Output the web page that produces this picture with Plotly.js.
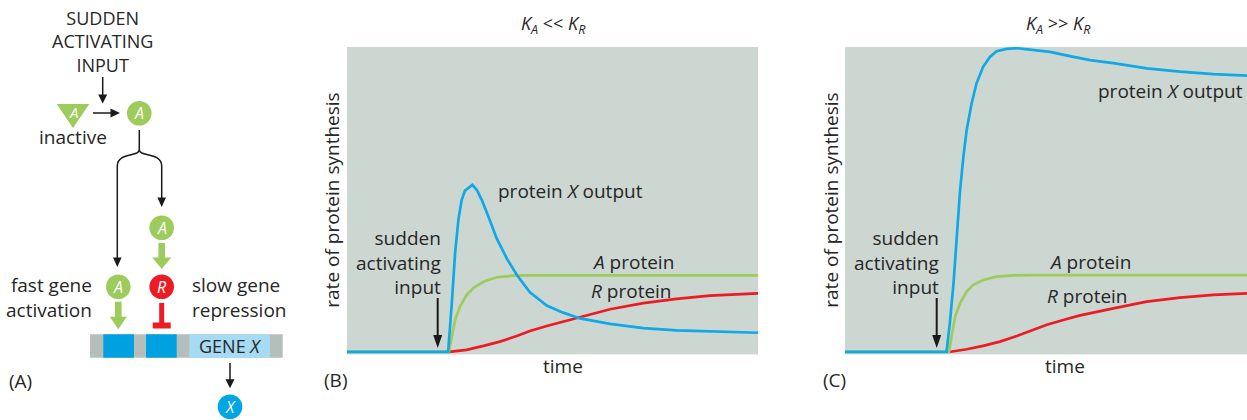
<!DOCTYPE html>
<html>
<head>
<meta charset="utf-8">
<script src="https://cdn.plot.ly/plotly-3.0.1.min.js"></script>
<style>html,body{margin:0;padding:0;background:#fff;overflow:hidden}</style>
</head>
<body>
<div id="chart" style="width:1247px;height:420px"></div>
<script>
// ---------- Data: panel B (K_A << K_R) ----------
const tBlueB = [0, 24.6, 25.5, 26.3, 27.1, 27.9, 28.7, 29.8, 30.5, 31.6, 32.8, 34.4, 36.4, 38.9, 41.3, 44.5, 48.6, 52.6, 56.7, 64.0, 72.1, 80.2, 88.3, 100];
const rBlueB = [0, 0, 16.0, 32.4, 43.3, 49.8, 52.9, 54.2, 54.8, 53.1, 49.8, 44.4, 37.3, 30.6, 25.3, 19.6, 15.2, 12.9, 11.0, 9.2, 7.8, 7.1, 6.7, 6.3];
const tGreenB = [0, 24.8, 25.5, 26.3, 27.5, 29.1, 30.7, 33.2, 36.4, 40.5, 44.5, 100];
const rGreenB = [0, 0, 5.0, 10.5, 14.9, 18.7, 20.9, 23.0, 24.5, 25.0, 25.1, 25.1];
const tRedB = [24.8, 29.1, 33.2, 37.2, 41.3, 44.5, 48.6, 54.3, 64.0, 72.1, 80.2, 88.3, 100];
const rRedB = [0, 0.7, 2.0, 3.4, 5.2, 6.9, 8.5, 10.5, 14.0, 16.0, 17.4, 18.5, 19.2];

// ---------- Data: panel C (K_A >> K_R) ----------
const tBlueC = [0, 24.7, 25.5, 26.4, 27.2, 28.0, 28.8, 29.6, 30.8, 32.0, 33.6, 35.3, 36.9, 39.3, 41.8, 45.0, 49.9, 54.7, 59.6, 65.3, 73.4, 81.5, 89.6, 97.8];
const rBlueC = [0, 0, 9.4, 22.5, 37.8, 53.1, 64.0, 72.8, 81.5, 88.1, 93.5, 96.8, 98.6, 99.4, 99.6, 99.2, 98.4, 97.0, 95.7, 94.7, 93.0, 91.9, 91.1, 90.6];
const tGreenC = [0, 25.3, 26.0, 26.8, 28.0, 29.6, 31.2, 33.6, 36.9, 40.9, 45.0, 97.8];
const rGreenC = [0, 0, 5.6, 11.6, 16.0, 19.8, 22.0, 23.6, 24.7, 25.1, 25.2, 25.2];
const tRedC = [25.3, 29.6, 33.6, 37.7, 41.8, 45.0, 49.1, 53.1, 57.2, 65.3, 73.4, 81.5, 89.6, 97.8];
const rRedC = [0, 0.9, 2.0, 3.4, 5.2, 6.9, 8.9, 10.5, 12.0, 14.3, 16.5, 17.8, 18.7, 19.2];

// ---------- Text ----------
const panelTitles = ['<i>K</i><sub><i>A</i></sub> &lt;&lt; <i>K</i><sub><i>R</i></sub>', '<i>K</i><sub><i>A</i></sub> &gt;&gt; <i>K</i><sub><i>R</i></sub>'];
const yTitle = 'rate of protein synthesis';
const xTitle = 'time';
const inputText = 'sudden<br>activating<br>input';
const curveLabels = ['protein <i>X</i> output', '<i>A</i> protein', '<i>R</i> protein'];

// ---------- Style ----------
const BLUE = '#10a8e6', GREEN = '#9dcb5c', RED = '#ec1c24', TXT = '#262626', BG = '#cdd7d2';
const FONT = 'Open Sans, Noto Sans, sans-serif';
const W = 1247, H = 420;
const P = x => x / W;          // pixel -> paper x
const Q = y => 1 - y / H;      // pixel -> paper y

function line(t, r, color, xa, ya) {
  return {x: t, y: r, xaxis: xa, yaxis: ya, mode: 'lines', hoverinfo: 'skip',
          line: {color: color, width: 2.7, shape: 'linear'}, showlegend: false};
}
const data = [
  line(tRedB, rRedB, RED, 'x', 'y'),
  line(tGreenB, rGreenB, GREEN, 'x', 'y'),
  line(tBlueB, rBlueB, BLUE, 'x', 'y'),
  line(tRedC, rRedC, RED, 'x2', 'y2'),
  line(tGreenC, rGreenC, GREEN, 'x2', 'y2'),
  line(tBlueC, rBlueC, BLUE, 'x2', 'y2')
];

const shapes = [];
const ann = [];
function txt(x, y, text, opt) {
  opt = opt || {};
  ann.push({xref: 'paper', yref: 'paper', x: P(x), y: Q(y), text: text, showarrow: false,
    xanchor: opt.xa || 'center', yanchor: 'middle', align: opt.align || 'center', textangle: opt.angle || 0,
    font: {family: FONT, size: opt.size || 19, color: opt.color || TXT}});
}
function pathPx(pts, fill, color, width) {
  let d = pts.map((p, i) => (i ? 'L' : 'M') + P(p[0]) + ',' + Q(p[1])).join(' ') + (fill ? ' Z' : '');
  shapes.push({type: 'path', xref: 'paper', yref: 'paper', path: d,
    fillcolor: fill || 'rgba(0,0,0,0)', line: {color: color || fill, width: width === undefined ? 0 : width}});
}
function rectPx(x0, y0, x1, y1, fill) {
  shapes.push({type: 'rect', xref: 'paper', yref: 'paper', x0: P(x0), x1: P(x1), y0: Q(y1), y1: Q(y0),
    fillcolor: fill, line: {width: 0}});
}
function circlePx(cx, cy, r, fill) {
  shapes.push({type: 'circle', xref: 'paper', yref: 'paper', x0: P(cx - r), x1: P(cx + r), y0: Q(cy + r), y1: Q(cy - r),
    fillcolor: fill, line: {width: 0}});
}
function arrowDown(x, y0, y1, headLen, headW, color, w) {
  pathPx([[x, y0], [x, y1 - headLen + 1]], null, color, w);
  pathPx([[x - headW / 2, y1 - headLen], [x + headW / 2, y1 - headLen], [x, y1]], color);
}
function circleLetter(cx, cy, fill, letter) {
  circlePx(cx, cy, 12.3, fill);
  txt(cx, cy, '<i>' + letter + '</i>', {color: '#ffffff', size: 16});
}

// ---------- Panel A diagram ----------
txt(102, 42, 'SUDDEN<br>ACTIVATING<br>INPUT', {size: 18});
arrowDown(102.7, 77, 103.5, 9, 9, '#1a1a1a', 1.5);
pathPx([[56.7, 104], [89.3, 104], [73, 128]], GREEN);
txt(73, 112, '<i>A</i>', {color: '#ffffff', size: 15});
txt(73, 137, 'inactive');
pathPx([[93, 113], [111, 113]], null, '#1a1a1a', 1.5);
pathPx([[110.5, 108.5], [110.5, 117.5], [120, 113]], '#1a1a1a');
circleLetter(139.3, 113.3, GREEN, 'A');
// fork
shapes.push({type: 'path', xref: 'paper', yref: 'paper', line: {color: '#1a1a1a', width: 1.5},
  path: 'M' + P(139.3) + ',' + Q(130) + ' L' + P(139.3) + ',' + Q(150) +
        ' C' + P(139.3) + ',' + Q(157) + ' ' + P(117.3) + ',' + Q(152) + ' ' + P(117.3) + ',' + Q(166) + ' L' + P(117.3) + ',' + Q(258)});
shapes.push({type: 'path', xref: 'paper', yref: 'paper', line: {color: '#1a1a1a', width: 1.5},
  path: 'M' + P(139.3) + ',' + Q(150) +
        ' C' + P(139.3) + ',' + Q(157) + ' ' + P(161.7) + ',' + Q(152) + ' ' + P(161.7) + ',' + Q(166) + ' L' + P(161.7) + ',' + Q(198)});
pathPx([[113, 257.5], [121.6, 257.5], [117.3, 267]], '#1a1a1a');
pathPx([[157.4, 197.5], [166, 197.5], [161.7, 207]], '#1a1a1a');
circleLetter(161.7, 227.7, GREEN, 'A');
rectPx(158.4, 243, 165, 258, GREEN);
pathPx([[152.2, 257.5], [171.2, 257.5], [161.7, 269]], GREEN);
circleLetter(161.7, 286.7, RED, 'R');
rectPx(159.2, 303, 164.2, 323, RED);
rectPx(152.7, 322.5, 170.7, 328.5, RED);
circleLetter(118.3, 286.7, GREEN, 'A');
rectPx(115, 301.7, 121.6, 317, GREEN);
pathPx([[109.8, 316.7], [126.8, 316.7], [118.3, 329.3]], GREEN);
txt(93.5, 297, 'fast gene<br>activation', {xa: 'right', align: 'right'});
txt(190, 297, 'slow gene<br>repression', {xa: 'left', align: 'left'});
rectPx(90, 334.3, 282.7, 357.7, '#b6bebb');
rectPx(103.3, 334.3, 134, 357.7, '#00a1e0');
rectPx(146, 334.3, 176.7, 357.7, '#00a1e0');
rectPx(189.3, 334.3, 270, 357.7, '#a6dbf3');
txt(230, 346, 'GENE <i>X</i>', {size: 18});
arrowDown(230, 363, 388.3, 9, 9, '#1a1a1a', 1.5);
circleLetter(230, 406.7, '#00a5e3', 'X');
txt(20.7, 381, '(A)');

// ---------- Panels B and C annotations ----------
const panels = [
  {title: [553, 24], ytitle: 331.7, time: 563, tag: [335.3, 380, '(B)'], inputX: 443.3, arrowX: 437.7,
   labels: [[496, 191.5], [590, 262], [588.7, 291]]},
  {title: [1058.8, 24], ytitle: 830.7, time: 1064.5, tag: [834, 380, '(C)'], inputX: 940.7, arrowX: 936.7,
   labels: [[1096, 91], [1046.7, 262], [1045, 296]]}
];
panels.forEach((p, k) => {
  txt(p.title[0], p.title[1], panelTitles[k], {size: 18});
  txt(p.ytitle, 200, yTitle, {angle: -90});
  txt(p.time, 366, xTitle);
  txt(p.tag[0], p.tag[1], p.tag[2]);
  txt(p.inputX, 262, inputText, {xa: 'right', align: 'right'});
  arrowDown(p.arrowX, 298, 348, 13, 9, '#1a1a1a', 2);
  p.labels.forEach((l, i) => txt(l[0], l[1], curveLabels[i], {xa: 'left'}));
});

const axisCommon = {showgrid: false, zeroline: false, showticklabels: false, ticks: '', showline: false, fixedrange: true};
const layout = {
  width: W, height: H, margin: {l: 0, r: 0, t: 0, b: 0},
  paper_bgcolor: '#ffffff', plot_bgcolor: BG, showlegend: false,
  font: {family: FONT, color: TXT},
  xaxis: Object.assign({domain: [P(347), P(758)], range: [0, 100], anchor: 'y'}, axisCommon),
  yaxis: Object.assign({domain: [Q(354.4), Q(47)], range: [-0.8, 100], anchor: 'x'}, axisCommon),
  xaxis2: Object.assign({domain: [P(845), 1], range: [0, 97.8], anchor: 'y2'}, axisCommon),
  yaxis2: Object.assign({domain: [Q(354.4), Q(47)], range: [-0.8, 100], anchor: 'x2'}, axisCommon),
  shapes: shapes, annotations: ann
};
Plotly.newPlot('chart', data, layout, {displayModeBar: false, staticPlot: true});
</script>
</body>
</html>
